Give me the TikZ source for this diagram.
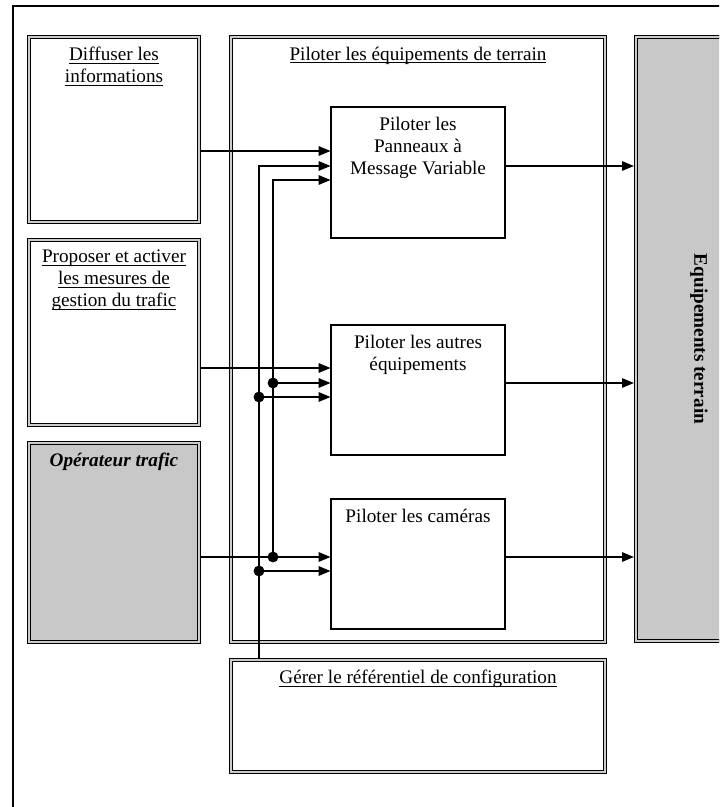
\documentclass[tikz,border=0pt]{standalone}
\usepackage{amsmath}
\usepackage{fontspec}
\setmainfont{Liberation Serif}
\usetikzlibrary{arrows.meta}
\usetikzlibrary{positioning}
\usetikzlibrary{fit}
\newcommand\ulin[1]{\underline{\smash[b]{#1}}}
\definecolor{trame}{RGB}{200,200,200}

\begin{document}
\begin{tikzpicture}[x=0.625pt,y=-0.625pt,
  font=\fontsize{12}{13.8}\selectfont,
  dbox/.style={draw,double=black!20,line width=0.7pt,double distance=1pt,inner sep=0pt},
  sbox/.style={draw,line width=0.65pt,inner sep=0pt},
  lbl/.style={inner sep=0pt,align=center},
  arr/.style={line width=0.65pt,-{Triangle[length=7.4pt,width=6pt]}},
  dot/.style={circle,fill,inner sep=0pt,minimum size=6.8pt}]
\useasboundingbox (0,0) rectangle (719,807);
\clip (0,0) rectangle (719,807);
\draw[line width=0.9pt] (13,830) -- (13,6) -- (740,6);
% boites
\node (diff) [dbox,fit={(29,37) (199,222)}] {};
\node (prop) [dbox,fit={(29,240) (199,425)}] {};
\node (oper) [dbox,fill=trame,fit={(29,443) (199,642)}] {};
\node (pil) [dbox,fit={(231,37) (605,642)}] {};
\node (ger) [dbox,fit={(231,660) (605,772)}] {};
\node (equ) [dbox,fill=trame,fit={(636,37) (762,641)}] {};
\node (pmv) [sbox,fit={(331,107) (505,238)}] {};
\node (aut) [sbox,fit={(331,325) (505,455)}] {};
\node (cam) [sbox,fit={(331,499) (505,629)}] {};
% textes
\node (diff-t) [lbl,below=6.2pt of diff.north] {\ulin{Diffuser les}\\\ulin{informations}};
\node (prop-t) [lbl,below=6.2pt of prop.north] {\ulin{Proposer et activer}\\\ulin{les mesures de}\\\ulin{gestion du trafic}};
\node (oper-t) [lbl,below=6.6pt of oper.north,font=\fontsize{12}{13.8}\selectfont\bfseries\itshape] {Opérateur trafic};
\node (pil-t) [lbl,below=6.2pt of pil.north] {\ulin{Piloter les équipements de terrain}};
\node (ger-t) [lbl,below=6.2pt of ger.north] {\ulin{Gérer le référentiel de configuration}};
\node (pmv-t) [lbl,below=6.2pt of pmv.north] {Piloter les\\Panneaux à\\Message Variable};
\node (aut-t) [lbl,below=6.2pt of aut.north] {Piloter les autres\\équipements};
\node (cam-t) [lbl,below=6.2pt of cam.north] {Piloter les caméras};
\node (equ-t) [lbl,rotate=-90,font=\fontsize{12}{13.8}\selectfont\bfseries] at (equ.center) {Equipements terrain};
% entrees
\node (b1) [dot] at (273,383) {};
\node (b2) [dot] at (273,557) {};
\node (a1) [dot] at (259,397) {};
\node (a2) [dot] at (259,571) {};
\draw[arr] (diff.east |- 0,151) -- (pmv.west |- 0,151);
\draw[arr] (prop.east |- 0,368) -- (aut.west |- 0,368);
\draw[arr] (oper.east |- b2) -- (cam.west |- b2);
\draw[arr] (ger.north -| a1) |- (pmv.west |- 0,166);
\draw[arr] (b2.center) |- (pmv.west |- 0,180);
\draw[arr] (b1.center) -- (aut.west |- b1);
\draw[arr] (a1.center) -- (aut.west |- a1);
\draw[arr] (a2.center) -- (cam.west |- a2);
% sorties
\foreach \b/\y in {pmv/166,aut/383,cam/557}
  \draw[arr,shorten >=1pt] (\b.east |- 0,\y) -- (equ.west |- 0,\y);
\end{tikzpicture}
\end{document}
